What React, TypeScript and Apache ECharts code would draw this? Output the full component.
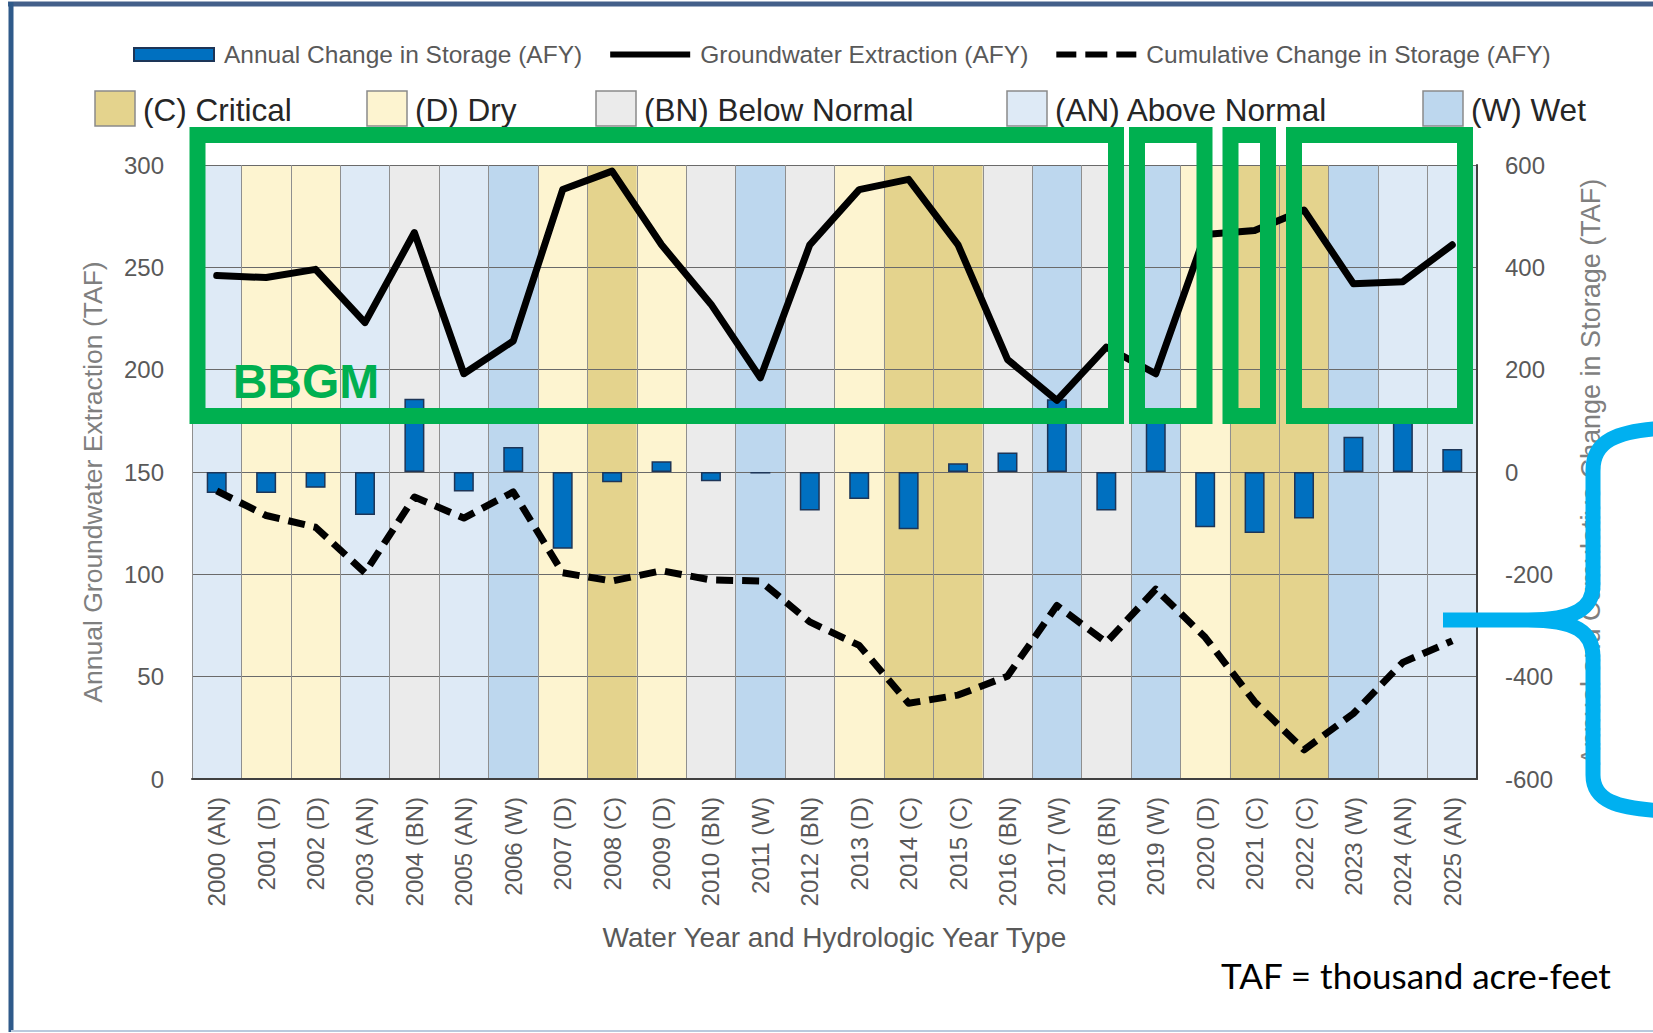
import React, { useEffect, useRef } from "react";
import * as echarts from "echarts";

const FONT = "'Liberation Sans', Arial, sans-serif";

const years = [
  "2000", "2001", "2002", "2003", "2004", "2005", "2006", "2007", "2008", "2009",
  "2010", "2011", "2012", "2013", "2014", "2015", "2016", "2017", "2018", "2019",
  "2020", "2021", "2022", "2023", "2024", "2025",
];
const yearTypes = [
  "AN", "D", "D", "AN", "BN", "AN", "W", "D", "C", "D",
  "BN", "W", "BN", "D", "C", "C", "BN", "W", "BN", "W",
  "D", "C", "C", "W", "AN", "AN",
];
// Groundwater extraction (TAF), left axis
const extraction = [
  246, 245, 249, 223, 267, 198, 214, 288, 297, 261,
  232, 196, 261, 288, 293, 261, 205, 185, 211, 198,
  266, 268, 278, 242, 243, 261,
];
// Annual change in storage (TAF), right axis
const annualChange = [
  -41, -41, -31, -84, 143, -38, 49, -150, -20, 21,
  -18, -3, -75, -53, -112, 17, 38, 142, -75, 105,
  -108, -119, -91, 69, 100, 45,
];
// Cumulative change in storage (TAF), right axis
const cumulativeChange = [
  -37, -85, -108, -197, -49, -90, -39, -197, -213, -193,
  -211, -213, -293, -339, -452, -436, -399, -261, -333, -229,
  -323, -449, -543, -472, -372, -330,
];

const leftTicks = { min: 0, max: 300, interval: 50 };
const rightTicks = { min: -600, max: 600, interval: 200 };

const typeLegend = [
  { key: "C", label: "(C) Critical" },
  { key: "D", label: "(D) Dry" },
  { key: "BN", label: "(BN) Below Normal" },
  { key: "AN", label: "(AN) Above Normal" },
  { key: "W", label: "(W) Wet" },
];

const TYPE_COLORS: Record<string, string> = {
  C: "#e4d38d",
  D: "#fdf4d0",
  BN: "#ebebeb",
  AN: "#deeaf6",
  W: "#bdd7ee",
};

const categories = years.map((y, i) => `${y} (${yearTypes[i]})`);

const BRACE_D =
  "M 1443 620 L 1528 620 C 1576 620 1593 608 1593 585 L 1593 470 C 1593 442 1615 430 1668 428 " +
  "M 1528 620 C 1576 620 1593 632 1593 657 L 1593 775 C 1593 800 1615 809 1668 811";

const LINE_ICON = "path://M0,0H80V6H0Z";
const DASH_ICON = "path://M0,0H20V6H0Z M29,0H51V6H29Z M60,0H80V6H60Z";

export default function App() {
  const ref = useRef<HTMLDivElement>(null);

  useEffect(() => {
    if (!ref.current) return;
    echarts.graphic.registerShape("brace", echarts.graphic.extendPath(BRACE_D, {}));
    const chart = echarts.init(ref.current, null, { renderer: "svg" });

    const swatchX = [95, 367, 596, 1007, 1423];
    const graphicLegend: any[] = [];
    typeLegend.forEach((t, i) => {
      graphicLegend.push({
        type: "rect",
        shape: { x: swatchX[i], y: 91, width: 40, height: 35 },
        style: { fill: TYPE_COLORS[t.key], stroke: "#8a8a8a", lineWidth: 1.5 },
        z: 50,
      });
      graphicLegend.push({
        type: "text",
        x: swatchX[i] + 48,
        y: 110,
        style: {
          text: t.label,
          fill: "#262626",
          fontSize: 31.5,
          fontFamily: FONT,
          verticalAlign: "middle",
          align: "left",
        },
        z: 50,
      });
    });

    const greenBoxes = [
      [197.5, 918.5],
      [1137, 67.5],
      [1230.5, 37.5],
      [1294, 171],
    ].map(([x, w]) => ({
      type: "rect",
      shape: { x, y: 135, width: w, height: 281 },
      style: { fill: "none", stroke: "#00b050", lineWidth: 16 },
      z: 100,
    }));

    const option: any = {
      animation: false,
      backgroundColor: "#ffffff",
      textStyle: { fontFamily: FONT },
      legend: {
        left: 128,
        top: 37,
        itemWidth: 80,
        itemHeight: 13,
        itemGap: 28,
        textStyle: { fontSize: 24.5, color: "#595959", fontFamily: FONT, padding: [0, 0, 0, 5] },
        data: [
          { name: "Annual Change in Storage (AFY)", icon: "rect" },
          { name: "Groundwater Extraction (AFY)", icon: LINE_ICON },
          { name: "Cumulative Change in Storage (AFY)", icon: DASH_ICON },
        ],
      },
      grid: { left: 192, right: 176, top: 165, bottom: 254, containLabel: false },
      xAxis: [
        {
          type: "category",
          data: categories,
          boundaryGap: true,
          axisLine: { show: true, lineStyle: { color: "#404040", width: 2 } },
          axisTick: { show: false },
          axisLabel: { rotate: 90, interval: 0, fontSize: 24, color: "#595959", margin: 18, fontFamily: FONT },
          splitLine: { show: true, interval: 0, lineStyle: { color: "#8f8f8f", width: 1 } },
          name: "Water Year and Hydrologic Year Type",
          nameLocation: "middle",
          nameGap: 144,
          nameTextStyle: { fontSize: 28, color: "#595959", fontFamily: FONT },
        },
        { type: "category", data: categories, show: false },
      ],
      yAxis: [
        {
          type: "value",
          min: leftTicks.min,
          max: leftTicks.max,
          interval: leftTicks.interval,
          axisLine: { show: true, lineStyle: { color: "#8f8f8f", width: 1 } },
          axisTick: { show: false },
          axisLabel: { fontSize: 24, color: "#595959", margin: 28, fontFamily: FONT },
          splitLine: { show: true, lineStyle: { color: "#6a6a6a", width: 1 } },
          name: "Annual Groundwater Extraction (TAF)",
          nameLocation: "middle",
          nameRotate: 90,
          nameGap: 86,
          nameTextStyle: { fontSize: 26.5, color: "#7f7f7f", fontFamily: FONT, padding: [0, 20, 0, 0] },
        },
        {
          type: "value",
          position: "right",
          min: rightTicks.min,
          max: rightTicks.max,
          interval: rightTicks.interval,
          axisLine: { show: true, lineStyle: { color: "#404040", width: 2 } },
          axisTick: { show: false },
          axisLabel: { fontSize: 24, color: "#595959", margin: 28, fontFamily: FONT },
          splitLine: { show: false },
          name: "Annual and Cumulative Change in Storage (TAF)",
          nameLocation: "middle",
          nameRotate: 90,
          nameGap: 100,
          nameTextStyle: { fontSize: 27, color: "#7f7f7f", fontFamily: FONT },
        },
      ],
      series: [
        {
          name: "Hydrologic Year Type",
          type: "bar",
          xAxisIndex: 1,
          yAxisIndex: 0,
          barWidth: "100%",
          silent: true,
          z: -1,
          data: yearTypes.map((t) => ({ value: leftTicks.max, itemStyle: { color: TYPE_COLORS[t] } })),
        },
        {
          name: "Annual Change in Storage (AFY)",
          type: "bar",
          xAxisIndex: 0,
          yAxisIndex: 1,
          barWidth: 20,
          itemStyle: { color: "#0070c0", borderColor: "#1d3557", borderWidth: 1.5 },
          z: 3,
          data: annualChange,
        },
        {
          name: "Groundwater Extraction (AFY)",
          type: "line",
          xAxisIndex: 0,
          yAxisIndex: 0,
          symbol: "none",
          lineStyle: { color: "#000000", width: 7, join: "round", cap: "round" },
          itemStyle: { color: "#000000" },
          z: 4,
          data: extraction,
        },
        {
          name: "Cumulative Change in Storage (AFY)",
          type: "line",
          xAxisIndex: 0,
          yAxisIndex: 1,
          symbol: "none",
          lineStyle: { color: "#000000", width: 7, type: [17, 9], join: "round" },
          itemStyle: { color: "#000000" },
          z: 4,
          data: cumulativeChange,
        },
      ],
      graphic: [
        { type: "line", shape: { x1: 8, y1: 4, x2: 1653, y2: 4 }, style: { stroke: "#44608a", lineWidth: 5 }, z: 90 },
        { type: "line", shape: { x1: 11, y1: 2, x2: 11, y2: 1032 }, style: { stroke: "#2f5a8a", lineWidth: 5 }, z: 90 },
        { type: "line", shape: { x1: 11, y1: 1031, x2: 1653, y2: 1031 }, style: { stroke: "#b9c9dd", lineWidth: 2 }, z: 90 },
        ...graphicLegend,
        ...greenBoxes,
        {
          type: "text",
          x: 306,
          y: 381,
          style: {
            text: "BBGM",
            fill: "#00b050",
            fontSize: 48,
            fontWeight: "bold",
            fontFamily: FONT,
            align: "center",
            verticalAlign: "middle",
          },
          z: 100,
        },
        {
          type: "brace",
          x: 0,
          y: 0,
          style: { fill: "none", stroke: "#00b0f0", lineWidth: 15 },
          z: 100,
        },
        {
          type: "text",
          x: 1221,
          y: 975,
          style: {
            text: "TAF = thousand acre-feet",
            fill: "#000000",
            fontSize: 35,
            fontFamily: "Lato, 'Liberation Sans', sans-serif",
            align: "left",
            verticalAlign: "middle",
          },
          z: 100,
        },
      ],
    };

    chart.setOption(option);
    return () => chart.dispose();
  }, []);

  return (
    <div
      ref={ref}
      style={{ position: "fixed", left: 0, top: 0, width: 1653, height: 1033, background: "#ffffff" }}
    />
  );
}
